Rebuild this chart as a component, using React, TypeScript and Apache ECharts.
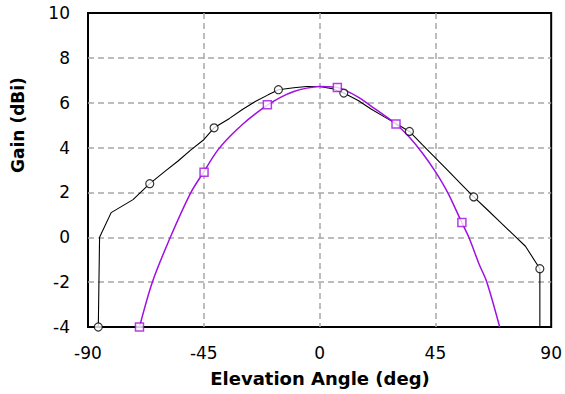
import React, { useEffect, useRef } from "react";
import * as echarts from "echarts";

// Black curve (deg, dBi)
const blackAngles = [-86, -85.5, -81, -72.5, -66, -60, -55, -50, -45, -41, -35, -30, -25, -20, -16, -10, -5, 0, 5, 9.4, 15, 20, 25, 30, 34.9, 40, 45, 50, 55, 59.9, 65, 70, 75, 80, 85.6, 85.6];
const blackGain = [-4, 0, 1.1, 1.68, 2.39, 2.95, 3.4, 3.9, 4.35, 4.88, 5.3, 5.7, 6.05, 6.35, 6.58, 6.67, 6.72, 6.72, 6.62, 6.43, 6.1, 5.72, 5.38, 5.05, 4.72, 4.12, 3.54, 2.96, 2.37, 1.8, 1.25, 0.7, 0.15, -0.4, -1.4, -4];
const blackMarkAngles = [-86, -66, -41, -16, 9.4, 34.9, 59.9, 85.6];
const blackMarkGain = [-4, 2.39, 4.88, 6.58, 6.43, 4.72, 1.8, -1.4];

// Magenta curve (deg, dBi)
const magAngles = [-70, -65, -58, -50, -45, -40, -35, -30, -25, -20, -15, -10, -5, 0, 5, 7, 10, 15, 20, 25, 30, 35, 40, 45, 50, 55, 58, 62, 65, 70];
const magGain = [-4, -2, 0, 2.0, 2.92, 3.82, 4.48, 5.03, 5.5, 5.91, 6.25, 6.5, 6.65, 6.72, 6.7, 6.68, 6.55, 6.25, 5.85, 5.45, 5.02, 4.45, 3.75, 2.93, 1.95, 0.72, 0, -1.2, -2, -4];
const magMarkAngles = [-70, -44.9, -20.3, 6.9, 29.7, 55.3];
const magMarkGain = [-4, 2.9, 5.91, 6.68, 5.05, 0.66];

const xTitle = "Elevation Angle (deg)";
const yTitle = "Gain (dBi)";

const zip = (a: number[], b: number[]) => a.map((v, i) => [v, b[i]]);

export default function App() {
  const ref = useRef<HTMLDivElement>(null);
  useEffect(() => {
    if (!ref.current) return;
    const chart = echarts.init(ref.current, undefined, { renderer: "svg" });
    const font = "DejaVu Sans";
    const purple = "#a010e0";
    const split = { show: true, showMinLine: false, showMaxLine: false, lineStyle: { color: "#a8a8a8", type: [6, 4], width: 1.5 } };
    chart.setOption({
      animation: false,
      backgroundColor: "#fff",
      grid: { left: 88, right: 13, top: 13, bottom: 67, show: true, borderColor: "#000", borderWidth: 2 },
      xAxis: {
        type: "value",
        min: -90,
        max: 90,
        interval: 45,
        axisLine: { show: false },
        axisTick: { show: false },
        axisLabel: { color: "#000", fontFamily: font, fontSize: 17, margin: 17 },
        splitLine: split,
      },
      yAxis: {
        type: "value",
        min: -4,
        max: 10,
        interval: 2,
        axisLine: { show: false },
        axisTick: { show: false },
        axisLabel: { color: "#000", fontFamily: font, fontSize: 17, margin: 18 },
        splitLine: split,
      },
      graphic: [
        {
          type: "text",
          x: 320,
          y: 378,
          style: { text: xTitle, font: `bold 18px "${font}"`, fill: "#000", textAlign: "center", textVerticalAlign: "middle" },
        },
        {
          type: "text",
          x: 18,
          y: 125,
          rotation: Math.PI / 2,
          style: { text: yTitle, font: `bold 17px "${font}"`, fill: "#000", textAlign: "center", textVerticalAlign: "middle" },
        },
      ],
      series: [
        {
          type: "line",
          data: zip(blackAngles, blackGain),
          showSymbol: false,
          symbol: "none",
          lineStyle: { color: "#000", width: 1.1 },
          z: 3,
        },
        {
          type: "line",
          data: zip(magAngles, magGain),
          showSymbol: false,
          symbol: "none",
          smooth: 0.3,
          lineStyle: { color: purple, width: 1.5 },
          z: 4,
        },
        {
          type: "scatter",
          data: zip(blackMarkAngles, blackMarkGain),
          symbol: "circle",
          symbolSize: 8,
          itemStyle: { color: "#fff", borderColor: "#000", borderWidth: 1.2 },
          z: 5,
        },
        {
          type: "scatter",
          data: zip(magMarkAngles, magMarkGain),
          symbol: "rect",
          symbolSize: 8,
          itemStyle: { color: "#fff", borderColor: purple, borderWidth: 1.5 },
          z: 6,
        },
      ],
    });
    return () => chart.dispose();
  }, []);
  return <div ref={ref} style={{ position: "absolute", left: 0, top: 0, width: 565, height: 394 }} />;
}
